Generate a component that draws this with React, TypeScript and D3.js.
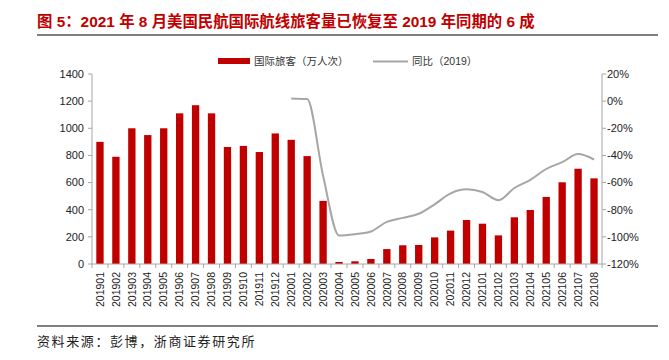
import React from "react";
import * as d3 from "d3";

const categories = [
  "201901","201902","201903","201904","201905","201906","201907","201908","201909","201910","201911","201912",
  "202001","202002","202003","202004","202005","202006","202007","202008","202009","202010","202011","202012",
  "202101","202102","202103","202104","202105","202106","202107","202108",
];
const passengers = [
  900, 790, 1000, 950, 1000, 1110, 1170, 1110, 862, 870, 825, 962,
  915, 795, 465, 15, 20, 37, 110, 138, 140, 196, 246, 324,
  297, 211, 344, 398, 494, 602, 702, 631,
];
const yoyCategories = categories.slice(12);
const yoy = [2, 1.5, -55, -99, -98, -96, -89, -86, -83, -76, -68, -65, -67, -73, -64, -58, -50, -45, -39, -43];
const leftTicks = [0, 200, 400, 600, 800, 1000, 1200, 1400];
const rightTicks = [20, 0, -20, -40, -60, -80, -100, -120];

const title = "图 5：2021 年 8 月美国民航国际航线旅客量已恢复至 2019 年同期的 6 成";
const legendBar = "国际旅客（万人次）";
const legendLine = "同比（2019）";
const source = "资料来源：彭博，浙商证券研究所";

const W = 669, H = 360;
const L = 92, R = 602, T = 74, B = 264;
const font = "'Liberation Sans', Arial, 'Noto Sans CJK SC', sans-serif";
const axisColor = "#a6a6a6";

export default function App() {
  const x = d3.scaleBand<string>().domain(categories).range([L, R]).paddingInner(0.54).paddingOuter(0.27);
  const xb = d3.scaleBand<string>().domain(categories).range([L, R]);
  const yL = d3.scaleLinear().domain([0, 1400]).range([B, T]);
  const yR = d3.scaleLinear().domain([-120, 20]).range([B, T]);
  const line = d3
    .line<number>()
    .x((_, i) => (xb(yoyCategories[i]) as number) + xb.bandwidth() / 2)
    .y((d) => yR(d))
    .curve(d3.curveMonotoneX);

  const boundaries = categories.map((c) => xb(c) as number).concat([R]);

  return (
    <svg width={W} height={H} style={{ display: "block", position: "absolute", left: 0, top: 0 }}>
      <rect x={0} y={0} width={W} height={H} fill="#fff" />
      <text x={37} y={27} fill="#c00000" fontSize={15.4} fontWeight="bold" fontFamily={font}>
        {title}
      </text>
      <line x1={37} x2={658} y1={35} y2={35} stroke="#7f7f7f" strokeWidth={2} />

      {/* legend */}
      <rect x={218} y={58} width={32} height={6} fill="#c00000" />
      <text x={254} y={65} fontSize={10.5} fill="#333" fontFamily={font}>{legendBar}</text>
      <line x1={373} x2={408} y1={61.5} y2={61.5} stroke="#a6a6a6" strokeWidth={2} />
      <text x={412} y={65} fontSize={10.5} fill="#333" fontFamily={font}>{legendLine}</text>

      {/* bars */}
      {categories.map((c, i) => (
        <rect key={c} x={x(c)} y={yL(passengers[i])} width={x.bandwidth()} height={B - yL(passengers[i])} fill="#c00000" />
      ))}

      {/* line */}
      <path d={line(yoy) || ""} fill="none" stroke="#a6a6a6" strokeWidth={2} />

      {/* left axis */}
      <line x1={L} x2={L} y1={T} y2={B} stroke={axisColor} />
      {leftTicks.map((t) => (
        <g key={t}>
          <line x1={L - 4} x2={L} y1={yL(t)} y2={yL(t)} stroke={axisColor} />
          <text x={L - 8} y={yL(t)} dy="0.35em" textAnchor="end" fontSize={11} fill="#222" fontFamily={font}>{t}</text>
        </g>
      ))}

      {/* right axis */}
      <line x1={R} x2={R} y1={T} y2={B} stroke={axisColor} />
      {rightTicks.map((t) => (
        <g key={t}>
          <line x1={R} x2={R + 4} y1={yR(t)} y2={yR(t)} stroke={axisColor} />
          <text x={R + 5} y={yR(t)} dy="0.35em" textAnchor="start" fontSize={11} fill="#222" fontFamily={font}>{t + "%"}</text>
        </g>
      ))}

      {/* x axis */}
      <line x1={L} x2={R} y1={B} y2={B} stroke={axisColor} />
      {boundaries.map((b, i) => (
        <line key={i} x1={b} x2={b} y1={B} y2={B + 4} stroke={axisColor} />
      ))}
      {categories.map((c) => {
        const cx = (xb(c) as number) + xb.bandwidth() / 2;
        return (
          <text key={c} transform={`translate(${cx},${B + 8}) rotate(-90)`} textAnchor="end" dy="0.35em" fontSize={10.5} fill="#222" fontFamily={font}>
            {c}
          </text>
        );
      })}

      <line x1={37} x2={658} y1={326} y2={326} stroke="#555" strokeWidth={1.5} />
      <text x={37} y={346} fontSize={13} letterSpacing={1.6} fill="#222" fontFamily="'Noto Sans CJK SC', sans-serif">{source}</text>
    </svg>
  );
}
